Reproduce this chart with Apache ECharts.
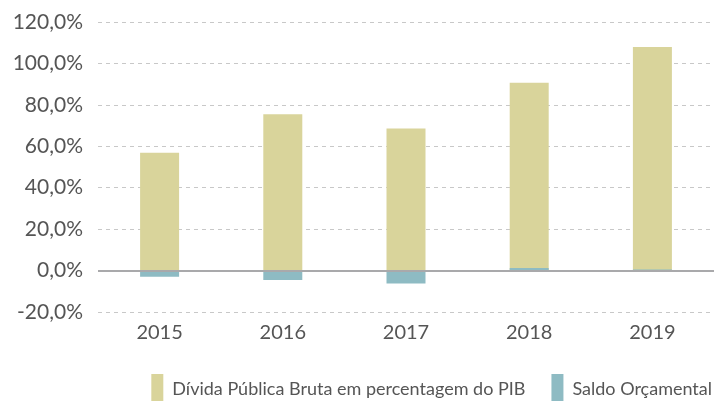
<!DOCTYPE html>
<html>
<head>
<meta charset="utf-8">
<script src="https://cdn.jsdelivr.net/npm/echarts@6/dist/echarts.min.js"></script>
<style>
  html, body { margin: 0; padding: 0; background: #fff; }
  #chart { width: 718px; height: 401px; }
</style>
</head>
<body>
<div id="chart"></div>
<script>
// anos
const anos = ['2015', '2016', '2017', '2018', '2019'];
// dívida pública bruta (% PIB)
const divida = [56.9, 75.5, 68.6, 90.7, 107.9];
// saldo orçamental (% PIB)
const saldo = [-3.0, -4.6, -6.2, 1.2, 0.5];
// eixo y
const yMin = -20, yMax = 120, yStep = 20;

const chart = echarts.init(document.getElementById('chart'));
const fonte = 'Lato, "Noto Sans", sans-serif';

chart.setOption({
  animation: false,
  textStyle: { fontFamily: fonte },
  grid: { left: 98, right: 4, top: 22, bottom: 89, containLabel: false },
  legend: {
    right: 1,
    top: 369,
    itemWidth: 12,
    itemHeight: 30,
    itemGap: 26,
    icon: 'rect',
    textStyle: { fontSize: 18, color: '#555', fontFamily: fonte, padding: [0, 0, 0, 4] },
    data: ['Dívida Pública Bruta em percentagem do PIB', 'Saldo Orçamental']
  },
  xAxis: {
    type: 'category',
    data: anos,
    axisLine: { show: false, onZero: false },
    axisTick: { show: false },
    axisLabel: { fontSize: 20, color: '#555', margin: 11, fontFamily: fonte }
  },
  yAxis: {
    type: 'value',
    min: yMin,
    max: yMax,
    interval: yStep,
    axisLine: { show: false },
    axisTick: { show: false },
    splitLine: { lineStyle: { color: '#c8c8c8', type: [4, 4], width: 1 } },
    axisLabel: {
      fontSize: 21,
      color: '#555',
      margin: 15,
      fontFamily: fonte,
      formatter: v => v.toFixed(1).replace('.', ',') + '%'
    }
  },
  series: [
    {
      name: 'Dívida Pública Bruta em percentagem do PIB',
      type: 'bar',
      data: divida,
      barWidth: 39,
      itemStyle: { color: '#d9d49b' },
      markLine: {
        silent: true,
        symbol: 'none',
        label: { show: false },
        lineStyle: { color: '#a9a9ab', width: 2, type: 'solid' },
        data: [{ yAxis: 0 }]
      }
    },
    {
      name: 'Saldo Orçamental',
      type: 'bar',
      data: saldo,
      barWidth: 39,
      barGap: '-100%',
      itemStyle: { color: '#8ebbc3' }
    }
  ]
});
</script>
</body>
</html>
